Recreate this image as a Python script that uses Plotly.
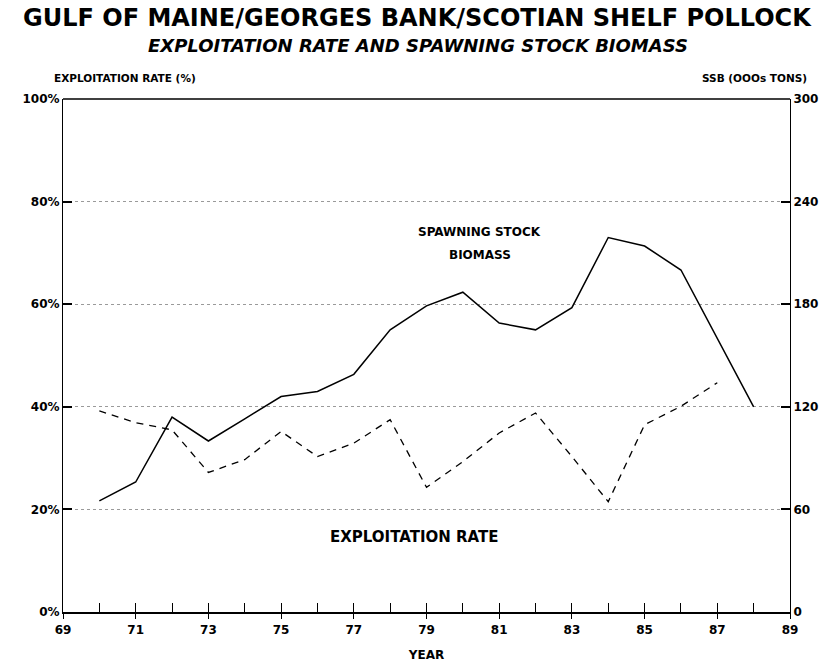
import plotly.graph_objects as go

# Years (19xx)
years = [70, 71, 72, 73, 74, 75, 76, 77, 78, 79, 80, 81, 82, 83, 84, 85, 86, 87, 88]
# Spawning stock biomass, thousand tons (right axis)
ssb = [65, 76, 114, 100, 113, 126, 129, 139, 165, 179, 187, 169, 165, 178, 219, 214, 200, 160, 120]
# Exploitation rate, percent (left axis)
rate_years = [70, 71, 72, 73, 74, 75, 76, 77, 78, 79, 80, 81, 82, 83, 84, 85, 86, 87]
rate = [39.2, 36.9, 35.5, 27.2, 29.7, 35.2, 30.3, 32.9, 37.5, 24.3, 29.3, 34.9, 38.8, 30.3, 21.5, 36.5, 40.1, 44.7]

left_ticks = [0, 20, 40, 60, 80, 100]
left_labels = ["0%", "20%", "40%", "60%", "80%", "100%"]
right_ticks = [0, 60, 120, 180, 240, 300]
year_ticks = [69, 71, 73, 75, 77, 79, 81, 83, 85, 87, 89]

FONT = "DejaVu Sans"
W, H = 833, 671
ML, MR, MT, MB = 63, 43, 99, 59


def fnt(size):
    return dict(family=FONT, size=size, color="black", weight="bold")


def px_x(px):
    return (px - ML) / (W - ML - MR)


def px_y(py):
    return (H - MB - py) / (H - MT - MB)


fig = go.Figure()

fig.add_trace(go.Scatter(
    x=rate_years, y=rate, mode="lines", yaxis="y",
    line=dict(color="black", width=1.3, dash="7px,6px"),
    showlegend=False, hoverinfo="skip"))

fig.add_trace(go.Scatter(
    x=years, y=ssb, mode="lines", yaxis="y2",
    line=dict(color="black", width=1.5),
    showlegend=False, hoverinfo="skip"))

# invisible trace carrying the inner yearly tick axis
fig.add_trace(go.Scatter(
    x=[69, 89], y=[0, 0], mode="lines", xaxis="x2", yaxis="y",
    line=dict(width=0), showlegend=False, hoverinfo="skip"))

fig.update_layout(
    width=W, height=H,
    margin=dict(l=ML, r=MR, t=MT, b=MB),
    paper_bgcolor="white", plot_bgcolor="white",
    xaxis=dict(
        range=[69, 89], tickvals=year_ticks, ticktext=[str(v) for v in year_ticks],
        ticks="outside", ticklen=5, tickwidth=1, tickcolor="black",
        showline=True, linecolor="black", linewidth=2.2,
        showgrid=False, zeroline=False, tickfont=fnt(12),
        title=dict(text="YEAR", font=fnt(12), standoff=15),
    ),
    xaxis2=dict(
        range=[69, 89], overlaying="x", side="bottom", dtick=1, tick0=69,
        ticks="inside", ticklen=9, tickwidth=1, tickcolor="black",
        showticklabels=False, showline=False, showgrid=False, zeroline=False,
    ),
    yaxis=dict(
        range=[0, 100], tickvals=left_ticks, ticktext=left_labels,
        ticks="inside", ticklen=9, tickwidth=1.5, tickcolor="black",
        showline=True, linecolor="black", linewidth=1,
        showgrid=True, gridcolor="#9a9a9a", griddash="dot", gridwidth=1,
        zeroline=False, tickfont=fnt(12),
    ),
    yaxis2=dict(
        range=[0, 300], tickvals=right_ticks, overlaying="y", side="right",
        ticks="inside", ticklen=9, tickwidth=1.5, tickcolor="black",
        showline=True, linecolor="black", linewidth=1,
        showgrid=False, zeroline=False, tickfont=fnt(12),
    ),
    shapes=[dict(type="line", xref="paper", yref="paper", x0=0, x1=1, y0=1, y1=1,
                 line=dict(color="black", width=1.3))],
    annotations=[
        dict(text="GULF OF MAINE/GEORGES BANK/SCOTIAN SHELF POLLOCK",
             xref="paper", yref="paper", x=px_x(417), y=px_y(18), yanchor="middle",
             showarrow=False, font=fnt(24)),
        dict(text="<i>EXPLOITATION RATE AND SPAWNING STOCK BIOMASS</i>",
             xref="paper", yref="paper", x=px_x(418), y=px_y(46), yanchor="middle",
             showarrow=False, font=fnt(18)),
        dict(text="EXPLOITATION RATE (%)",
             xref="paper", yref="paper", x=px_x(52), y=px_y(78),
             xanchor="left", yanchor="middle", showarrow=False, font=fnt(10.5)),
        dict(text="SSB (OOOs TONS)",
             xref="paper", yref="paper", x=px_x(809), y=px_y(78),
             xanchor="right", yanchor="middle", showarrow=False, font=fnt(10.5)),
        dict(text="SPAWNING STOCK", x=80.47, y=74.1, xref="x", yref="y",
             yanchor="middle", showarrow=False, font=fnt(12)),
        dict(text="BIOMASS", x=80.47, y=69.5, xref="x", yref="y",
             yanchor="middle", showarrow=False, font=fnt(12)),
        dict(text="EXPLOITATION RATE", x=78.66, y=14.6, xref="x", yref="y",
             yanchor="middle", showarrow=False, font=fnt(15)),
    ],
)

fig.write_html("out.html")
